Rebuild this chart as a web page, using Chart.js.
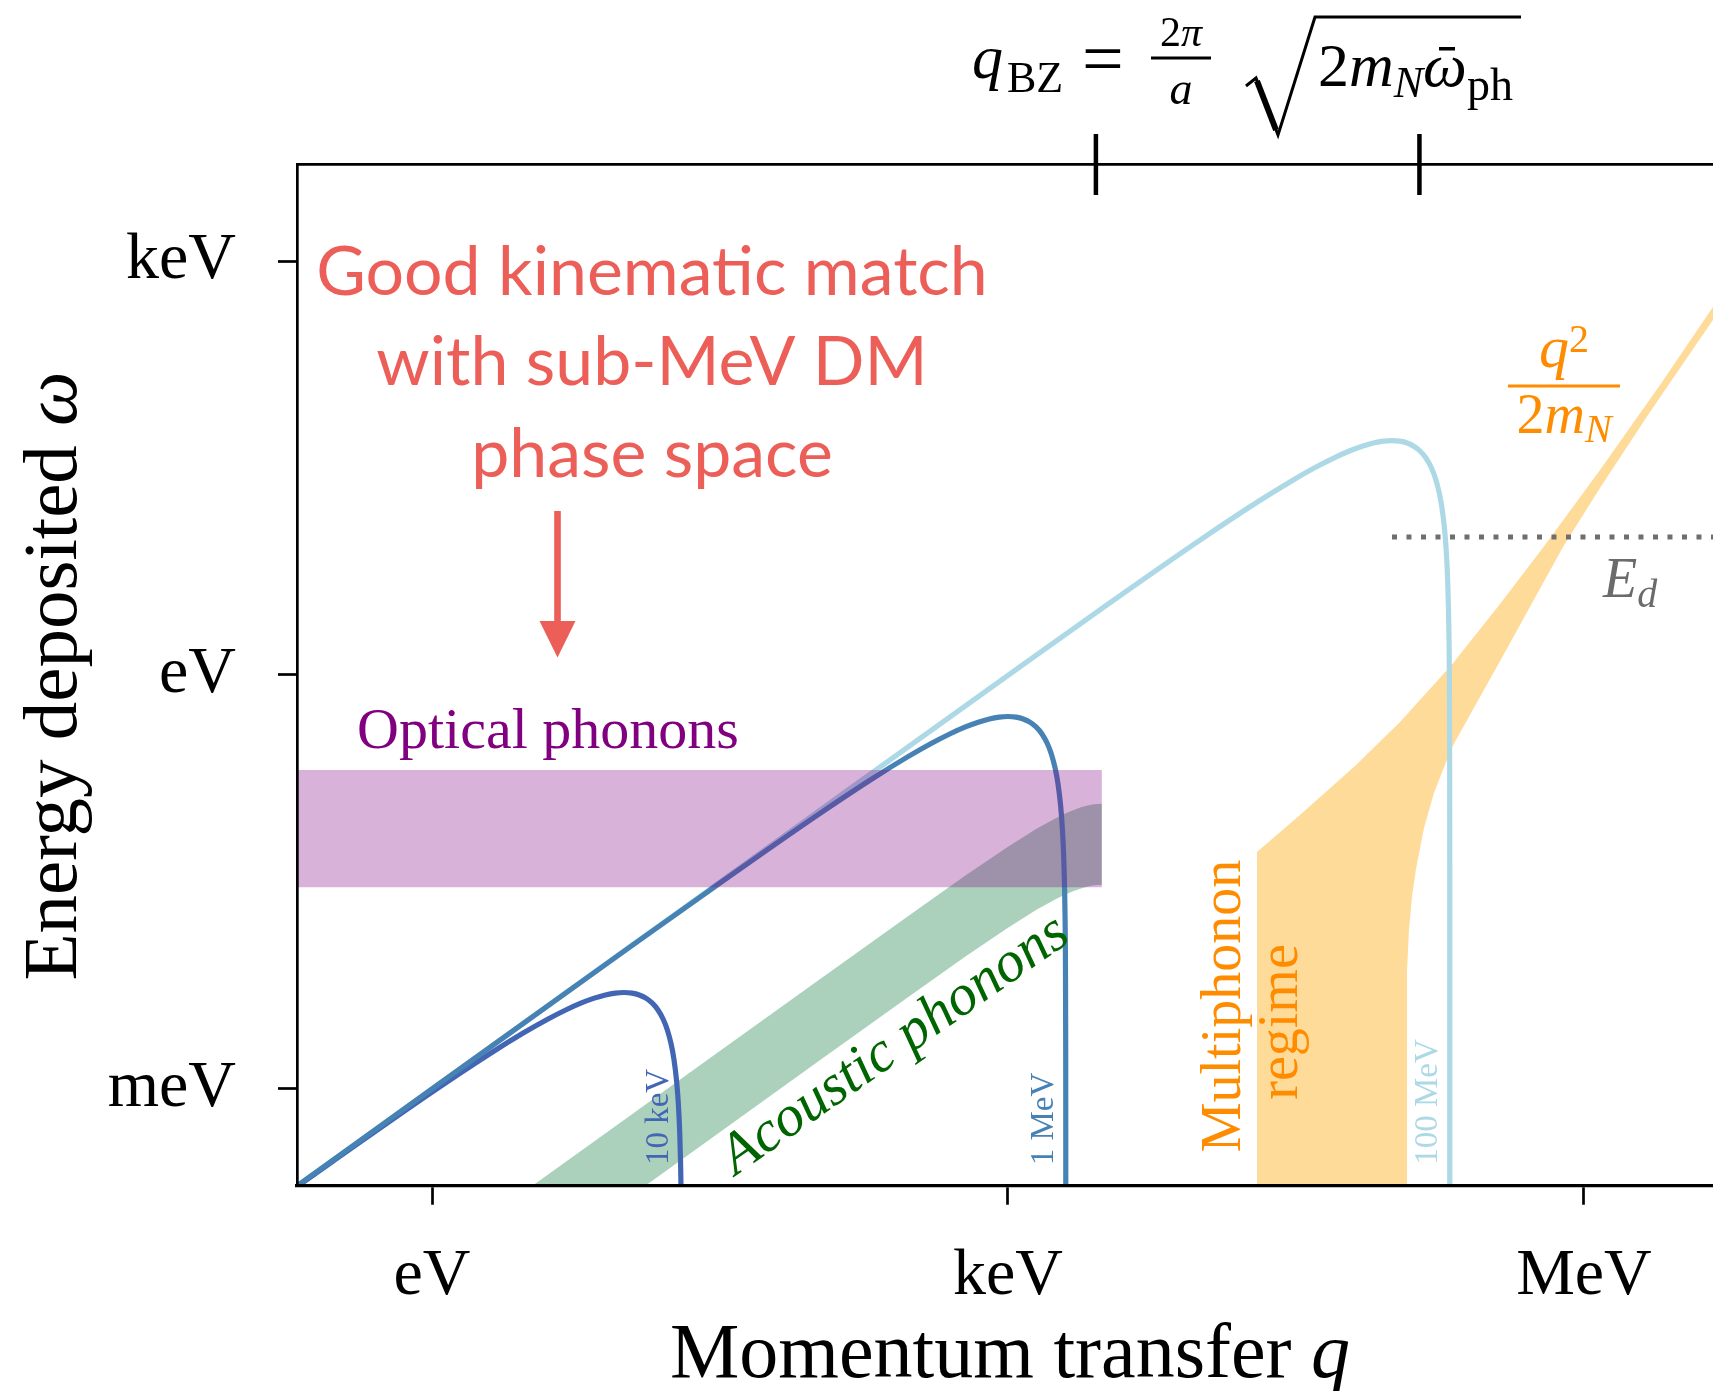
<!DOCTYPE html>
<html>
<head>
<meta charset="utf-8">
<script src="https://cdn.jsdelivr.net/npm/chart.js@4.4.0/dist/chart.umd.min.js"></script>
<style>
  html, body { margin: 0; padding: 0; background: #fff; }
  canvas { display: block; }
</style>
</head>
<body>
<canvas id="chart" width="1713" height="1391"></canvas>
<script>
// ticks
const xTickVals = [1, 1e3, 1e6];
const xTickLabels = ["eV", "keV", "MeV"];
const yTickVals = [1e-3, 1, 1e3];
const yTickLabels = ["meV", "eV", "keV"];
const topTickVals = [2870, 1.39e5]; // q_BZ, sqrt(2 m_N w_ph)

// DM kinematic curves (q in eV, omega in eV)
const q10keV = [0.1, 0.3, 1, 2, 3, 4, 5, 6, 7, 8, 9, 10, 11, 12, 13, 14, 15, 16, 16.8, 17.6, 18.2, 18.8, 19.2, 19.5, 19.7, 19.8, 19.9, 19.98];
const w10keV = [9.95e-5, 2.955e-4, 9.5e-4, 1.8e-3, 2.55e-3, 3.2e-3, 3.75e-3, 4.2e-3, 4.55e-3, 4.8e-3, 4.95e-3, 5.0e-3, 4.95e-3, 4.8e-3, 4.55e-3, 4.2e-3, 3.75e-3, 3.2e-3, 2.688e-3, 2.112e-3, 1.638e-3, 1.128e-3, 7.68e-4, 4.875e-4, 2.955e-4, 1.98e-4, 9.95e-5, 2.0e-5];

const q1MeV = [0.1, 1, 10, 30, 100, 200, 300, 400, 500, 600, 700, 800, 900, 1000, 1100, 1200, 1300, 1400, 1500, 1600, 1680, 1760, 1820, 1880, 1920, 1950, 1970, 1980, 1990, 1998, 1999.5, 1999.9, 1999.98];
const w1MeV = [1.0e-4, 1.0e-3, 9.95e-3, 0.02955, 0.095, 0.18, 0.255, 0.32, 0.375, 0.42, 0.455, 0.48, 0.495, 0.5, 0.495, 0.48, 0.455, 0.42, 0.375, 0.32, 0.2688, 0.2112, 0.1638, 0.1128, 0.0768, 0.04875, 0.02955, 0.0198, 0.00995, 0.002, 5.0e-4, 1.0e-4, 2.0e-5];

const q100MeV = [0.1, 10, 100, 1000, 3000, 10000, 20000, 30000, 40000, 50000, 60000, 70000, 80000, 90000, 100000, 110000, 120000, 130000, 140000, 150000, 160000, 168000, 176000, 182000, 188000, 192000, 195000, 197000, 198000, 199000, 199800, 199950, 199990, 199998, 199999.8, 199999.98];
const w100MeV = [1.0e-4, 0.01, 0.09995, 0.995, 2.955, 9.5, 18, 25.5, 32, 37.5, 42, 45.5, 48, 49.5, 50, 49.5, 48, 45.5, 42, 37.5, 32, 26.88, 21.12, 16.38, 11.28, 7.68, 4.875, 2.955, 1.98, 0.995, 0.1998, 0.05, 0.01, 0.002, 2.0e-4, 2.0e-5];

// acoustic phonon band
const qAcoustic = [1, 3, 10, 30, 100, 300, 600, 1000, 1400, 1800, 2000, 2200, 2400, 2600, 2800, 3080];
const wAcousticTop = [5.96e-5, 1.79e-4, 5.96e-4, 1.788e-3, 5.954e-3, 0.0178, 0.03518, 0.05702, 0.07648, 0.09279, 0.0995, 0.1052, 0.1098, 0.1133, 0.1156, 0.1168];
const wAcousticBottom = [1.54e-5, 4.62e-5, 1.54e-4, 4.62e-4, 1.54e-3, 4.6e-3, 9.1e-3, 0.01474, 0.01977, 0.02399, 0.02573, 0.0272, 0.0284, 0.0293, 0.02989, 0.0302];

// optical phonon band
const qOptical = [0.1, 3080, 3080, 0.1];
const wOptical = [0.205, 0.205, 0.029, 0.029];

// multiphonon regime
const qMultiTop = [1.981e4, 1.981e4, 3.317e4, 6.417e4, 1.101e5, 2.044e5, 3.652e5, 6.266e5, 1.212e6, 2.488e6, 4.697e6, 8.254e6];
const wMultiTop = [1e-5, 0.05218, 0.09672, 0.2191, 0.4563, 1.1815, 3.269, 8.75, 30.59, 126.3, 464.2, 1420];
const qMultiBottom = [1.197e5, 1.197e5, 1.226e5, 1.271e5, 1.334e5, 1.468e5, 1.655e5, 2.044e5, 2.873e5, 4.068e5, 5.623e5, 7.776e5, 1.212e6, 2.207e6, 4.697e6, 8.254e6];
const wMultiBottom = [1e-5, 7.045e-3, 0.0142, 0.02462, 0.03927, 0.07785, 0.1396, 0.2958, 0.6929, 1.65, 3.736, 8.465, 22.65, 80.5, 373.6, 1242];

// displacement energy
const qEd = [1e5, 1e7];
const wEd = [10, 10];

function pts(qs, ws) {
  return qs.map((q, i) => ({ x: q, y: ws[i] }));
}
function ring(qa, wa, qb, wb) {
  return pts(qa, wa).concat(pts(qb, wb).reverse());
}

const SERIF = '"Liberation Serif", "DejaVu Serif", serif';
const f = (size, style) => (style || "") + " " + size + "px " + SERIF;
const RED = "#ec5e58";
const C10 = "#4366b4", C1 = "#4682b4", C100 = "#add8e6";

// writes runs of text [text, font, dy] and returns end x
function write(ctx, parts, x, y, align) {
  let w = 0;
  parts.forEach(p => { ctx.font = p[1]; w += ctx.measureText(p[0]).width; });
  let cx = align === "center" ? x - w / 2 : align === "right" ? x - w : x;
  ctx.textAlign = "left";
  ctx.textBaseline = "alphabetic";
  parts.forEach(p => {
    ctx.font = p[1];
    ctx.fillText(p[0], cx, y + (p[2] || 0));
    cx += ctx.measureText(p[0]).width;
  });
  return cx;
}
function writeRot(ctx, parts, x, y, angle, align) {
  ctx.save();
  ctx.translate(x, y);
  ctx.rotate(angle);
  write(ctx, parts, 0, 0, align);
  ctx.restore();
}

const decor = {
  id: "decor",
  afterDraw(chart) {
    const ctx = chart.ctx;
    const top = chart.scales.x2;
    ctx.save();

    // top ticks crossing the spine
    ctx.strokeStyle = "#000";
    ctx.lineWidth = 4.5;
    topTickVals.forEach(v => {
      const px = top.getPixelForValue(v);
      ctx.beginPath();
      ctx.moveTo(px, 134);
      ctx.lineTo(px, 195);
      ctx.stroke();
    });

    // q_BZ = 2pi/a
    ctx.fillStyle = "#000";
    write(ctx, [["q", f(62, "italic")]], 972, 78, "left");
    write(ctx, [["BZ", f(44)]], 1007, 92, "left");
    write(ctx, [["=", f(74)]], 1082, 83, "left");
    write(ctx, [["2", f(42)], ["π", f(42, "italic")]], 1181, 46, "center");
    ctx.fillRect(1151, 56.5, 60, 3);
    write(ctx, [["a", f(46, "italic")]], 1181, 104, "center");

    // sqrt(2 m_N w_ph)
    ctx.lineWidth = 3;
    ctx.lineJoin = "miter";
    ctx.beginPath();
    ctx.moveTo(1246, 86);
    ctx.lineTo(1256, 78);
    ctx.lineTo(1278, 135);
    ctx.lineTo(1315, 17);
    ctx.lineTo(1521, 17);
    ctx.stroke();
    ctx.lineWidth = 6;
    ctx.beginPath();
    ctx.moveTo(1257, 81);
    ctx.lineTo(1276, 130);
    ctx.stroke();
    let x = write(ctx, [["2", f(62)], ["m", f(62, "italic")], ["N", f(44, "italic"), 11]], 1318, 86, "left");
    ctx.font = f(62, "italic");
    const ww = ctx.measureText("ω").width;
    ctx.fillText("ω", x, 86);
    ctx.fillRect(x + ww / 2 - 6, 47, 16, 3.5);
    write(ctx, [["ph", f(46), 14]], x + ww, 86, "left");

    // axis titles
    write(ctx, [["Momentum transfer ", f(78)], ["q", f(78, "italic")]], 1010, 1377, "center");
    writeRot(ctx, [["Energy deposited ", f(77)], ["ω", f(77, "italic")]], 76, 676, -Math.PI / 2, "center");

    // kinematic match note
    ctx.fillStyle = RED;
    const lato = "68px Lato, \"Open Sans\", sans-serif";
    write(ctx, [["Good kinematic match", lato]], 652, 295, "center");
    write(ctx, [["with sub-MeV DM", lato]], 652, 385, "center");
    write(ctx, [["phase space", lato]], 652, 477, "center");
    ctx.fillRect(554.2, 511, 6.6, 114);
    ctx.beginPath();
    ctx.moveTo(539.5, 621);
    ctx.lineTo(575.5, 621);
    ctx.lineTo(557.5, 657.5);
    ctx.closePath();
    ctx.fill();

    // region labels
    ctx.fillStyle = "#800080";
    write(ctx, [["Optical phonons", f(58)]], 548, 748, "center");
    ctx.fillStyle = "#006400";
    writeRot(ctx, [["Acoustic phonons", f(58, "italic")]], 904, 1058, -35 * Math.PI / 180, "center");
    ctx.fillStyle = "#ff8c00";
    writeRot(ctx, [["Multiphonon", f(56)]], 1240, 1006, -Math.PI / 2, "center");
    writeRot(ctx, [["regime", f(56)]], 1297, 1022, -Math.PI / 2, "center");

    // mass labels
    ctx.fillStyle = C10;
    writeRot(ctx, [["10 keV", f(33)]], 668, 1117, -Math.PI / 2, "center");
    ctx.fillStyle = C1;
    writeRot(ctx, [["1 MeV", f(33)]], 1053, 1119, -Math.PI / 2, "center");
    ctx.fillStyle = C100;
    writeRot(ctx, [["100 MeV", f(33)]], 1437, 1102, -Math.PI / 2, "center");

    // q^2 / 2 m_N
    ctx.fillStyle = "#ff8c00";
    write(ctx, [["q", f(60, "italic")], ["2", f(40), -15]], 1564, 367, "center");
    ctx.fillRect(1508, 384.5, 112, 3);
    write(ctx, [["2", f(56)], ["m", f(56, "italic")], ["N", f(40, "italic"), 9]], 1564, 433, "center");

    // E_d
    ctx.fillStyle = "#6b6b6b";
    write(ctx, [["E", f(56, "italic")], ["d", f(40, "italic"), 10]], 1603, 597, "left");

    ctx.restore();
  }
};

const axisGrid = { drawOnChartArea: false, drawTicks: true, tickLength: 19, tickWidth: 2.7, tickColor: "#000" };

new Chart(document.getElementById("chart"), {
  type: "line",
  data: {
    datasets: [
      { label: "Optical phonons", data: pts(qOptical, wOptical), order: 0, fill: "shape",
        backgroundColor: "rgba(128,0,128,0.3)", borderWidth: 0, pointRadius: 0 },
      { label: "1 MeV", data: pts(q1MeV, w1MeV), order: 1, fill: false, borderColor: C1,
        borderWidth: 5.2, pointRadius: 0, cubicInterpolationMode: "monotone" },
      { label: "10 keV", data: pts(q10keV, w10keV), order: 2, fill: false, borderColor: C10,
        borderWidth: 5.2, pointRadius: 0, cubicInterpolationMode: "monotone" },
      { label: "100 MeV", data: pts(q100MeV, w100MeV), order: 3, fill: false, borderColor: C100,
        borderWidth: 5.2, pointRadius: 0, cubicInterpolationMode: "monotone" },
      { label: "E_d", data: pts(qEd, wEd), order: 3.5, fill: false, borderColor: "#6e6e6e",
        borderWidth: 5, borderDash: [5, 9.5], borderCapStyle: "butt", pointRadius: 0 },
      { label: "Multiphonon", data: ring(qMultiTop, wMultiTop, qMultiBottom, wMultiBottom), order: 4,
        fill: "shape", backgroundColor: "rgba(255,165,0,0.4)", borderWidth: 0, pointRadius: 0 },
      { label: "Acoustic phonons", data: ring(qAcoustic, wAcousticTop, qAcoustic, wAcousticBottom), order: 5,
        fill: "shape", backgroundColor: "rgba(46,139,87,0.4)", borderWidth: 0, pointRadius: 0 }
    ]
  },
  options: {
    responsive: false,
    animation: false,
    devicePixelRatio: 1,
    layout: { padding: 0 },
    plugins: { legend: { display: false }, tooltip: { enabled: false }, title: { display: false } },
    scales: {
      x: {
        type: "logarithmic", position: "bottom", min: 0.198, max: 4.70e6,
        afterBuildTicks: s => { s.ticks = xTickVals.map(v => ({ value: v })); },
        afterFit: s => { s.height = 1391 - 1185.7; },
        ticks: { callback: (v, i) => xTickLabels[i], color: "#000", padding: 32, autoSkip: false,
                 maxRotation: 0, minRotation: 0, font: { family: SERIF, size: 66 } },
        grid: axisGrid,
        border: { display: true, width: 3.3, color: "#000", z: 1 }
      },
      x2: {
        type: "logarithmic", position: "top", min: 0.198, max: 4.70e6,
        afterBuildTicks: s => { s.ticks = topTickVals.map(v => ({ value: v })); },
        afterFit: s => { s.height = 164; },
        ticks: { display: false },
        grid: { drawOnChartArea: false, drawTicks: false },
        border: { display: true, width: 2.7, color: "#000", z: 1 }
      },
      y: {
        type: "logarithmic", position: "left", min: 1.99e-4, max: 5047,
        afterBuildTicks: s => { s.ticks = yTickVals.map(v => ({ value: v })); },
        afterFit: s => { s.width = 297; },
        ticks: { callback: (v, i) => yTickLabels[i], color: "#000", padding: 42, autoSkip: false,
                 font: { family: SERIF, size: 66 } },
        grid: axisGrid,
        border: { display: true, width: 2.7, color: "#000", z: 1 }
      }
    }
  },
  plugins: [decor]
});
</script>
</body>
</html>
